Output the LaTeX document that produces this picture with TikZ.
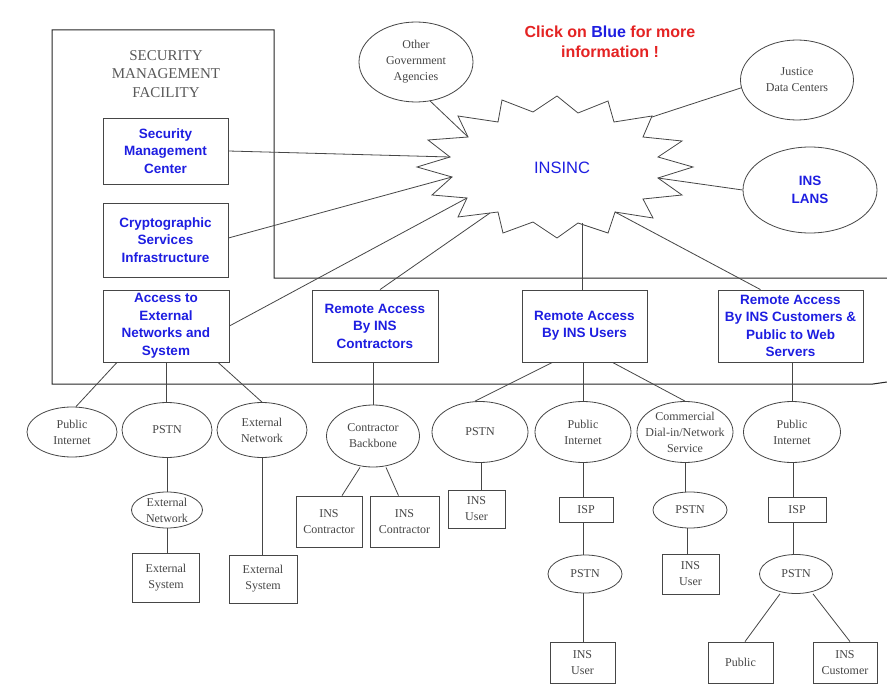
\documentclass[tikz,border=0pt]{standalone}
\usepackage{fontspec}
\setmainfont{Liberation Serif}
\newfontfamily\arialf{Liberation Sans}
\usetikzlibrary{shapes.geometric,calc}
\definecolor{bluet}{RGB}{30,30,225}
\definecolor{redt}{RGB}{228,35,35}
\definecolor{linec}{RGB}{70,70,70}
\definecolor{textg}{RGB}{70,70,70}
\begin{document}
\begin{tikzpicture}[x=1pt,y=-1pt,
  ln/.style={draw=linec, line width=0.8pt},
  bx/.style={ln, rectangle, inner sep=0pt, fill=white},
  el/.style={ln, ellipse, inner sep=0pt, fill=white},
  bluelbl/.style={font=\arialf\bfseries\fontsize{13.5}{17.5}\selectfont, text=bluet, align=center, inner sep=0pt},
  grl/.style={font=\fontsize{12}{16}\selectfont, text=textg, align=center, inner sep=0pt}
]
\useasboundingbox (0,0) rectangle (887,698);
\fill[white] (0,0) rectangle (887,698);

% facility outline
\draw[draw=black!85, line width=1pt] (887,278) -- (274,278) -- (274,30) -- (52,30) -- (52,384) -- (873,384) -- (887,382);
\node[font=\fontsize{15}{18.3}\selectfont, text=black!65, align=center, inner sep=0pt] (smf) at (166,74) {SECURITY\\MANAGEMENT\\FACILITY};

% INSINC star
\draw[ln, fill=white] (557,96) -- (578,113) -- (608,101) -- (614,122) -- (652,116) -- (643,137) -- (682,141) -- (658,157) -- (693,167) -- (658,178) -- (682,195) -- (643,199) -- (653,218) -- (615,212) -- (608,233) -- (578,223) -- (557,238) -- (533,222) -- (503,233) -- (498,212) -- (458,217) -- (467,198) -- (432,195) -- (452,177) -- (417,167) -- (450,157) -- (428,140) -- (468,137) -- (458,116) -- (498,122) -- (502,100) -- (533,112) -- cycle;
\node[font=\arialf\fontsize{16.5}{20}\selectfont, text=bluet, inner sep=0pt] (insinc) at (562,168) {INSINC};
\coordinate (sOGA) at (468,137);
\coordinate (sSMC) at (450,157);
\coordinate (sCSI) at (452,177);
\coordinate (sEXT) at (467,198);
\coordinate (sCON) at (490,213);
\coordinate (sUSR) at (582,223);
\coordinate (sCUS) at (615,212);
\coordinate (sJDC) at (652,117);
\coordinate (sLAN) at (658,178);

\node[font=\arialf\bfseries\fontsize{16}{20}\selectfont, text=redt, align=center, inner sep=0pt] (click) at (610,42) {Click on \textcolor{bluet}{Blue} for more\\information !};

% top ellipses
\node[el, minimum width=114, minimum height=80, label={[grl]center:{Other\\Government\\Agencies}}] (oga) at (416,62) {};
\node[el, minimum width=113, minimum height=80, label={[grl]center:{Justice\\Data Centers}}] (jdc) at (797,80) {};
\node[el, minimum width=134, minimum height=86, label={[bluelbl]center:{INS\\LANS}}] (lans) at (810,190) {};

% blue boxes
\node[bx, minimum width=125, minimum height=66, label={[bluelbl]center:{Security\\Management\\Center}}] (smc) at (165.5,151) {};
\node[bx, minimum width=125, minimum height=74, label={[bluelbl]center:{Cryptographic\\Services\\Infrastructure}}] (csi) at (165.5,240) {};
\node[bx, minimum width=126, minimum height=72, label={[bluelbl]center:{Access to\\External\\Networks and\\System}}] (ext) at (166,326) {};
\node[bx, minimum width=126, minimum height=72, label={[bluelbl]center:{Remote Access\\By INS\\Contractors}}] (rcon) at (375,326) {};
\node[bx, minimum width=125, minimum height=72, label={[bluelbl]center:{Remote Access\\By INS Users}}] (rusr) at (584.5,326) {};
\node[bx, minimum width=145, minimum height=72, label={[bluelbl]center:{Remote Access\\By INS Customers \&\\Public to Web\\Servers}}] (rcus) at (790.5,326) {};

% bottom ellipses
\node[el, minimum width=90, minimum height=50, label={[grl]center:{Public\\Internet}}] (pi1) at (72,432) {};
\node[el, minimum width=90, minimum height=55, label={[grl]center:{PSTN}}] (pstn1) at (167,430) {};
\node[el, minimum width=90, minimum height=55, label={[grl]center:{External\\Network}}] (en1) at (262,430) {};
\node[el, minimum width=93, minimum height=62, label={[grl]center:{Contractor\\Backbone}}] (cb) at (373,436) {};
\node[el, minimum width=96, minimum height=61, label={[grl]center:{PSTN}}] (pstn2) at (480,432) {};
\node[el, minimum width=96, minimum height=61, label={[grl]center:{Public\\Internet}}] (pi2) at (583,432) {};
\node[el, minimum width=96, minimum height=61, label={[grl]center:{Commercial\\Dial-in/Network\\Service}}] (cdn) at (685,432) {};
\node[el, minimum width=97, minimum height=61, label={[grl]center:{Public\\Internet}}] (pi3) at (792,432) {};

\node[el, minimum width=71, minimum height=36, label={[grl]center:{External\\Network}}] (en2) at (167,510) {};
\node[bx, minimum width=67, minimum height=49, label={[grl]center:{External\\System}}] (es1) at (166,577.5) {};
\node[bx, minimum width=68, minimum height=48, label={[grl]center:{External\\System}}] (es2) at (263,579) {};
\node[bx, minimum width=66, minimum height=51, label={[grl]center:{INS\\Contractor}}] (ic1) at (329,521.5) {};
\node[bx, minimum width=69, minimum height=51, label={[grl]center:{INS\\Contractor}}] (ic2) at (404.5,521.5) {};
\node[bx, minimum width=57, minimum height=38, label={[grl]center:{INS\\User}}] (iu1) at (476.5,509) {};
\node[bx, minimum width=54, minimum height=25, label={[grl]center:{ISP}}] (isp1) at (586,509.5) {};
\node[el, minimum width=74, minimum height=38, label={[grl]center:{PSTN}}] (pstn3) at (585,574) {};
\node[bx, minimum width=65, minimum height=41, label={[grl]center:{INS\\User}}] (iu2) at (582.5,662.5) {};
\node[el, minimum width=74, minimum height=36, label={[grl]center:{PSTN}}] (pstn4) at (690,510) {};
\node[bx, minimum width=57, minimum height=40, label={[grl]center:{INS\\User}}] (iu3) at (690.5,574) {};
\node[bx, minimum width=58, minimum height=25, label={[grl]center:{ISP}}] (isp2) at (797,509.5) {};
\node[el, minimum width=73, minimum height=39, label={[grl]center:{PSTN}}] (pstn5) at (796,574) {};
\node[bx, minimum width=65, minimum height=41, label={[grl]center:{Public}}] (pub) at (740.5,662.5) {};
\node[bx, minimum width=64, minimum height=41, label={[grl]center:{INS\\Customer}}] (ic3) at (845,662.5) {};

% connectors to INSINC
\draw[ln] (oga.290) -- (sOGA);
\draw[ln] (smc.east) -- (sSMC);
\draw[ln] ([yshift=2]csi.east) -- (sCSI);
\draw[ln] (ext.east) -- (sEXT);
\draw[ln] ([xshift=5]rcon.north) -- (sCON);
\draw[ln] (sUSR) -- (sUSR |- rusr.north);
\draw[ln] (sCUS) -- ([xshift=-30]rcus.north);
\draw[ln] (sJDC) -- (jdc.188);
\draw[ln] (sLAN) -- (lans.west);

% lower connectors
\draw[ln] ([xshift=-49]ext.south) -- ([xshift=4]pi1.north);
\draw[ln] (ext.south) -- (ext.south |- pstn1.north);
\draw[ln] ([xshift=52]ext.south) -- (en1.north);
\draw[ln] ([xshift=-2]rcon.south) -- ([xshift=-2]rcon.south |- cb.north);
\draw[ln] ([xshift=-13]cb.south) -- ([xshift=13]ic1.north);
\draw[ln] ([xshift=13]cb.south) -- ([xshift=-6]ic2.north);
\draw[ln] ([xshift=-32]rusr.south) -- ([xshift=-5]pstn2.north);
\draw[ln] ([xshift=-1.5]rusr.south) -- ([xshift=-1.5]rusr.south |- pi2.north);
\draw[ln] ([xshift=28]rusr.south) -- (cdn.north);
\draw[ln] ([xshift=2]rcus.south) -- ([xshift=2]rcus.south |- pi3.north);

\draw[ln] (pstn1.south) -- (pstn1.south |- en2.north);
\draw[ln] (en2.south) -- (en2.south |- es1.north);
\draw[ln] (en1.south) -- (en1.south |- es2.north);
\draw[ln] ([xshift=1]pstn2.south) -- ([xshift=1]pstn2.south |- iu1.north);
\draw[ln] (pi2.south) -- (pi2.south |- isp1.north);
\draw[ln] (pi2.south |- isp1.south) -- (pi2.south |- pstn3.north);
\draw[ln] (pi2.south |- pstn3.south) -- (pi2.south |- iu2.north);
\draw[ln] (cdn.south) -- (cdn.south |- pstn4.north);
\draw[ln] ([xshift=-3]pstn4.south) -- ([xshift=-3]pstn4.south |- iu3.north);
\draw[ln] ([xshift=1]pi3.south) -- ([xshift=1]pi3.south |- isp2.north);
\draw[ln] ([xshift=1]pi3.south |- isp2.south) -- ([xshift=1]pi3.south |- pstn5.north);
\draw[ln] ([xshift=-16]pstn5.south) -- ([xshift=4.5]pub.north);
\draw[ln] ([xshift=17]pstn5.south) -- ([xshift=5]ic3.north);
\end{tikzpicture}
\end{document}
